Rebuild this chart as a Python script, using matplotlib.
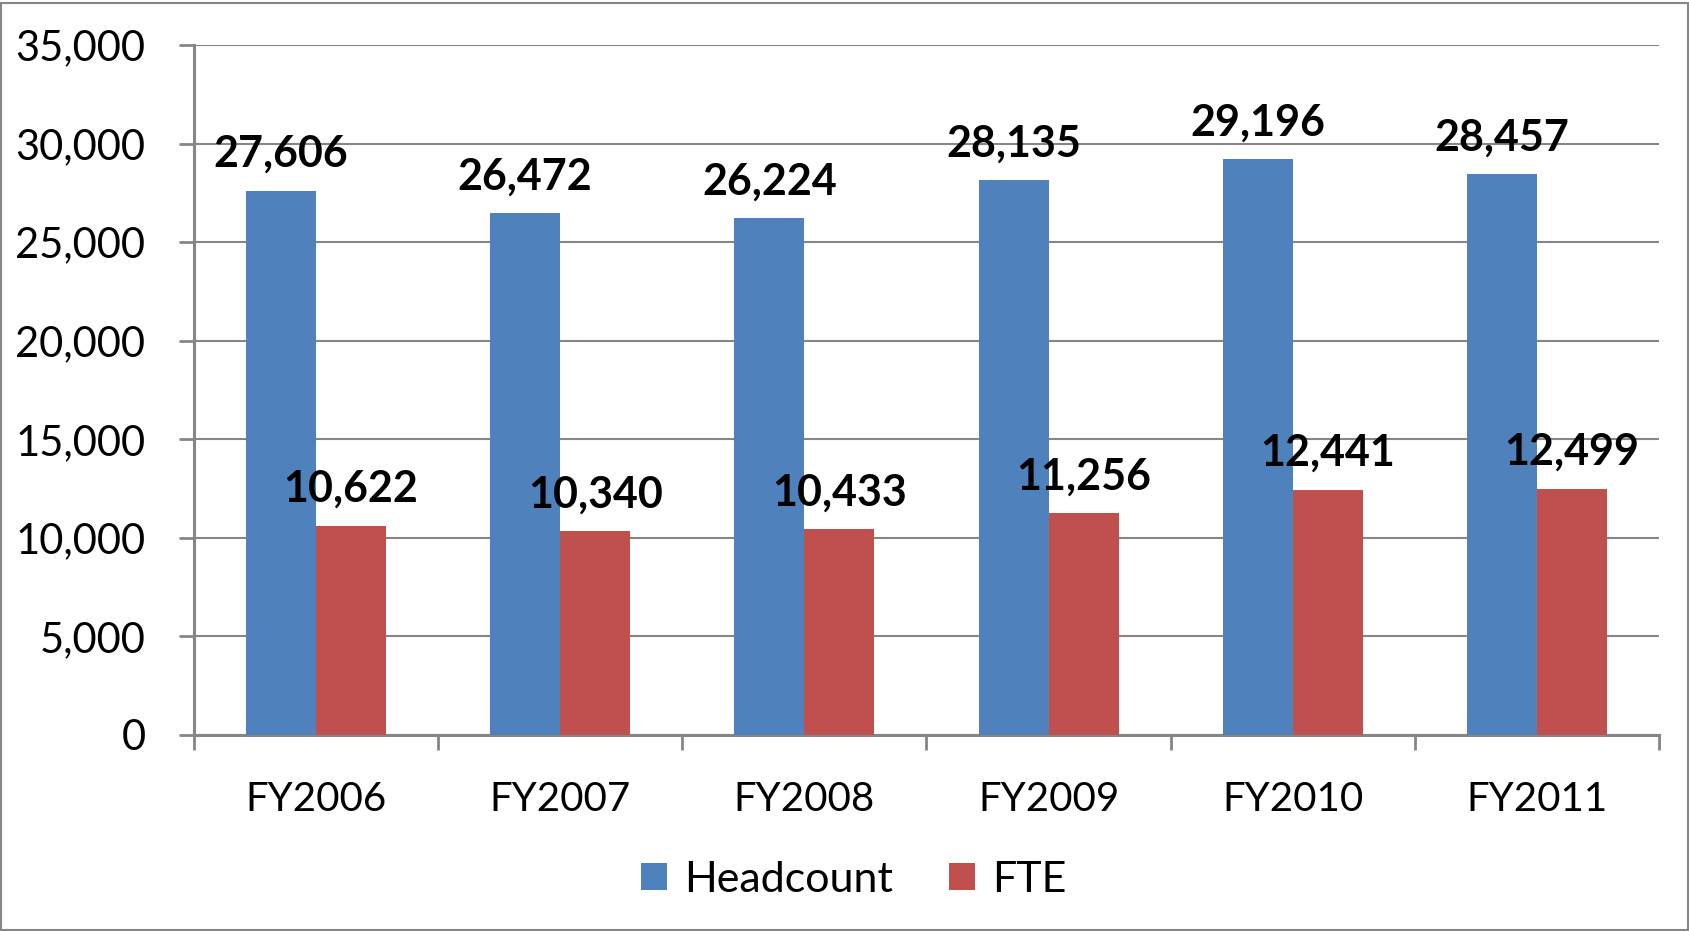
import matplotlib
matplotlib.use("Agg")
import matplotlib.pyplot as plt
from matplotlib.patches import Rectangle
from matplotlib.ticker import FuncFormatter, MultipleLocator
import numpy as np

years = ["FY2006", "FY2007", "FY2008", "FY2009", "FY2010", "FY2011"]
headcount = [27606, 26472, 26224, 28135, 29196, 28457]
fte = [10622, 10340, 10433, 11256, 12441, 12499]

plt.rcParams['font.family'] = ['Lato', 'DejaVu Sans']

fig = plt.figure(figsize=(16.9, 9.31), dpi=100)
ax = fig.add_axes([194 / 1690, 1 - 735 / 931, 1465 / 1690, 690 / 931])

x = np.arange(len(years))
w = 0.287
b1 = ax.bar(x - w / 2, headcount, w, color="#4F81BD", label="Headcount", zorder=3)
b2 = ax.bar(x + w / 2, fte, w, color="#C0504D", label="FTE", zorder=3)

for bars, vals in ((b1, headcount), (b2, fte)):
    for bar, v in zip(bars, vals):
        ax.annotate(f"{v:,}", (bar.get_x() + bar.get_width() / 2, v),
                    xytext=(0, 12), textcoords="offset points",
                    ha="center", va="bottom", fontsize=31, fontweight="bold")

ax.set_xlim(-0.5, len(years) - 0.5)
ax.set_ylim(0, 35000)
ax.yaxis.set_major_locator(MultipleLocator(5000))
ax.yaxis.set_major_formatter(FuncFormatter(lambda v, p: f"{int(v):,}"))
ax.set_xticks(np.arange(len(years) + 1) - 0.5)
ax.set_xticklabels([])
ax.set_xticks(x, minor=True)
ax.set_xticklabels(years, minor=True)
ax.tick_params(axis="x", which="minor", length=0, pad=33, labelsize=29)
ax.tick_params(axis="x", which="major", length=11, width=2, color="#868686")
ax.tick_params(axis="y", length=11, width=2, color="#868686", pad=24, labelsize=30)

ax.grid(axis="y", color="#868686", linewidth=1.5, zorder=0)
for s in ("top", "right"):
    ax.spines[s].set_visible(False)
for s in ("left", "bottom"):
    ax.spines[s].set_color("#868686")
    ax.spines[s].set_linewidth(2.2)

fig.legend(handles=[b1, b2], loc="center", bbox_to_anchor=(0.505, 1 - 880 / 931),
           ncol=2, frameon=False, fontsize=31, handlelength=0.6, handleheight=0.6,
           handletextpad=0.4, columnspacing=1.3)

fig.patches.append(Rectangle((1 / 1690, 1 / 931), 1687 / 1690, 927 / 931,
                             transform=fig.transFigure, fill=False,
                             edgecolor="#868686", linewidth=1.5))

fig.savefig("out.png", dpi=100)
